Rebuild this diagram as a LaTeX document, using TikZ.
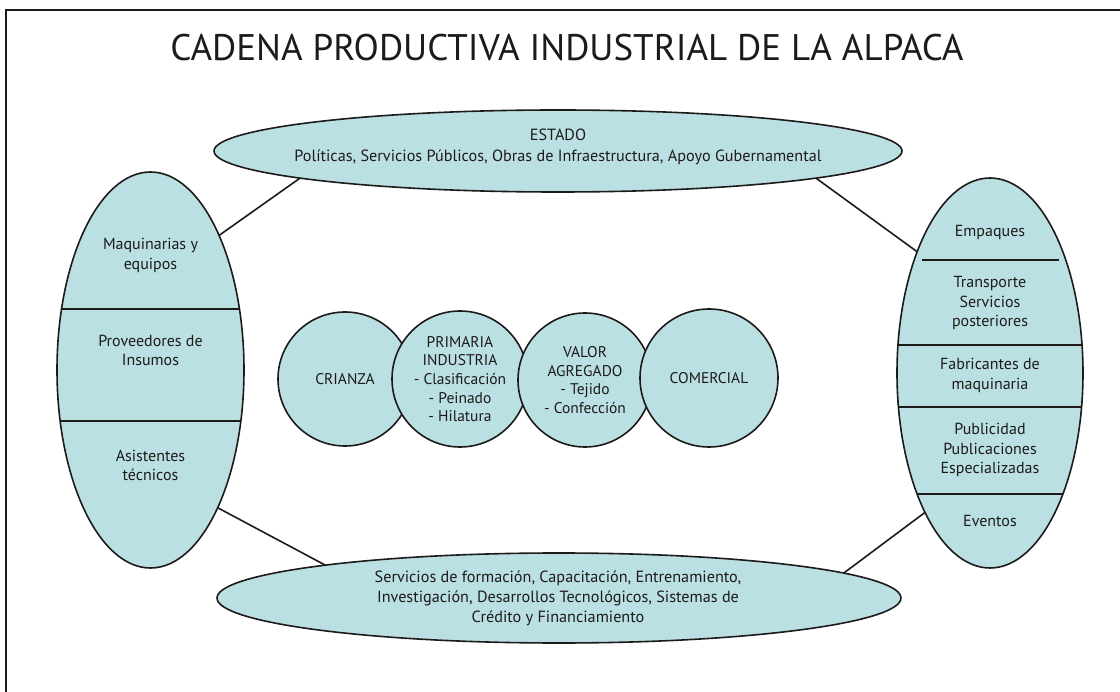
\documentclass[tikz,border=0pt]{standalone}
\usepackage{fontspec}
\setmainfont{PT Sans}
\usetikzlibrary{shapes.geometric}
\definecolor{fillc}{RGB}{187,224,227}
\definecolor{inkc}{RGB}{30,26,26}
\tikzset{
  part/.style={draw=inkc, line width=1.6pt, fill=fillc, inner sep=0pt, outer sep=0pt},
  ell/.style={part, ellipse},
  circ/.style={part, circle, align=center, text=inkc, font=\fontsize{15.5}{18.7}\selectfont},
  lbl/.style={align=center, inner sep=0pt, text=inkc, font=\fontsize{16}{19.5}\selectfont},
  conn/.style={draw=inkc, line width=1.6pt},
  divider/.style={draw=inkc, line width=1.6pt},
}
\begin{document}
\begin{tikzpicture}[x=1pt,y=-1pt]
\useasboundingbox (0,0) rectangle (1120,692);
\fill[white] (0,0) rectangle (1120,692);
\draw[line width=1.5pt, draw=inkc] (6,692) -- (6,10) -- (1120,10);

% title
\node[text=inkc, inner sep=0pt, font=\fontsize{37}{40}\selectfont] (title) at (567,48) {CADENA PRODUCTIVA INDUSTRIAL DE LA ALPACA};

\node[ell, minimum width=688pt, minimum height=82pt] (T) at (558,151) {};
\node[ell, minimum width=684pt, minimum height=90pt] (B) at (559,598) {};
\node[ell, minimum width=187pt, minimum height=396pt] (L) at (150.5,370) {};
\node[ell, minimum width=186pt, minimum height=390pt] (R) at (990,373) {};

\draw[conn] (L.63.8) -- (T.186.1);
\draw[conn] (T.354.3) -- (R.121.1);
\draw[conn] (L.296.2) -- (B.172.2);
\draw[conn] (B.5.6) -- (R.245.7);

% dividers, left
\begin{scope}
  \clip (L.center) ellipse [x radius=93.5pt, y radius=198pt];
  \draw[divider] (40,309) -- (260,309);
  \draw[divider] (40,421) -- (260,421);
\end{scope}
% dividers, right
\begin{scope}
  \clip (R.center) ellipse [x radius=93pt, y radius=195pt];
  \draw[divider] (880,345) -- (1100,345);
  \draw[divider] (880,407) -- (1100,407);
  \draw[divider] (880,494) -- (1100,494);
\end{scope}
\draw[divider, line width=2pt] (922,260) -- (1059,260);

% labels in ellipses
\node[lbl, font=\fontsize{16.2}{21}\selectfont] (tT) at (558,146.5) {ESTADO\\Políticas, Servicios Públicos, Obras de Infraestructura, Apoyo Gubernamental};
\node[lbl, font=\fontsize{16.2}{20}\selectfont] (tB) at (558,598) {Servicios de formación, Capacitación, Entrenamiento,\\Investigación, Desarrollos Tecnológicos, Sistemas de\\Crédito y Financiamiento};

\node[lbl] (tL1) at (150.5,255.5) {Maquinarias y\\equipos};
\node[lbl] (tL2) at (150.5,350.5) {Proveedores de\\Insumos};
\node[lbl] (tL3) at (150.5,465.5) {Asistentes\\técnicos};

\node[lbl] (tR1) at (990,233) {Empaques};
\node[lbl] (tR2) at (990,303.5) {Transporte\\Servicios\\posteriores};
\node[lbl] (tR3) at (990,375.5) {Fabricantes de\\maquinaria};
\node[lbl] (tR4) at (990,450) {Publicidad\\Publicaciones\\Especializadas};
\node[lbl] (tR5) at (990,521) {Eventos};

% central chain
\node[circ, minimum size=134pt] (c1) at (345,379) {CRIANZA};
\node[circ, minimum size=136pt] (c2) at (460,379) {PRIMARIA\\INDUSTRIA\\- Clasificación\\- Peinado\\- Hilatura};
\node[circ, minimum size=134pt] (c3) at (585,380) {VALOR\\AGREGADO\\- Tejido\\- Confección};
\node[circ, minimum size=138pt] (c4) at (709,378) {COMERCIAL};
\end{tikzpicture}
\end{document}
